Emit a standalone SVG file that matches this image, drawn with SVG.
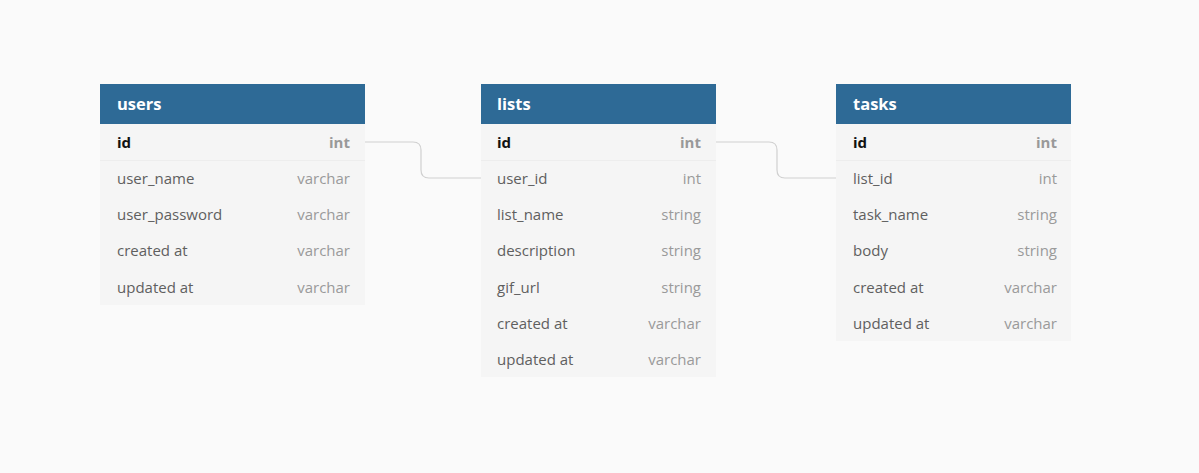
<svg xmlns="http://www.w3.org/2000/svg" width="1199" height="473" viewBox="0 0 1199 473">
<style>
.hdr{fill:#2e6a96}
.body{fill:#f5f5f5}
.sep{stroke:#ededed;stroke-width:1}
.title{font-family:"Open Sans",sans-serif;font-size:16.5px;font-weight:bold;fill:#ffffff}
.fn{font-family:"Open Sans",sans-serif;font-size:15px;fill:#5f5f5f}
.ft{font-family:"Open Sans",sans-serif;font-size:15px;fill:#9a9a9a;text-anchor:end}
.pk{font-weight:bold;fill:#111111}
.pkt{font-weight:bold;fill:#999999}
.conn{fill:none;stroke:#d0d0d0;stroke-width:1.2}
</style>
<rect width="1199" height="473" fill="#fafafa"/>
<g id="connectors">
<path class="conn" d="M365,142 H413 Q421,142 421,150 V170 Q421,178 429,178 H481"/>
<path class="conn" d="M716,142 H769 Q777,142 777,150 V170 Q777,178 785,178 H836"/>
</g>
<g id="users">
<rect class="body" x="100" y="84" width="265" height="221"/>
<rect class="hdr" x="100" y="84" width="265" height="40"/>
<text class="title" x="117" y="110">users</text>
<line class="sep" x1="100" y1="160.5" x2="365" y2="160.5"/>
<text class="fn pk" x="117" y="148">id</text><text class="ft pkt" x="350" y="148">int</text>
<text class="fn" x="117" y="184">user_name</text><text class="ft" x="350" y="184">varchar</text>
<text class="fn" x="117" y="220">user_password</text><text class="ft" x="350" y="220">varchar</text>
<text class="fn" x="117" y="256">created at</text><text class="ft" x="350" y="256">varchar</text>
<text class="fn" x="117" y="293">updated at</text><text class="ft" x="350" y="293">varchar</text>
</g>
<g id="lists">
<rect class="body" x="481" y="84" width="235" height="293"/>
<rect class="hdr" x="481" y="84" width="235" height="40"/>
<text class="title" x="497" y="110">lists</text>
<line class="sep" x1="481" y1="160.5" x2="716" y2="160.5"/>
<text class="fn pk" x="497" y="148">id</text><text class="ft pkt" x="701" y="148">int</text>
<text class="fn" x="497" y="184">user_id</text><text class="ft" x="701" y="184">int</text>
<text class="fn" x="497" y="220">list_name</text><text class="ft" x="701" y="220">string</text>
<text class="fn" x="497" y="256">description</text><text class="ft" x="701" y="256">string</text>
<text class="fn" x="497" y="293">gif_url</text><text class="ft" x="701" y="293">string</text>
<text class="fn" x="497" y="329">created at</text><text class="ft" x="701" y="329">varchar</text>
<text class="fn" x="497" y="365">updated at</text><text class="ft" x="701" y="365">varchar</text>
</g>
<g id="tasks">
<rect class="body" x="836" y="84" width="235" height="257"/>
<rect class="hdr" x="836" y="84" width="235" height="40"/>
<text class="title" x="853" y="110">tasks</text>
<line class="sep" x1="836" y1="160.5" x2="1071" y2="160.5"/>
<text class="fn pk" x="853" y="148">id</text><text class="ft pkt" x="1057" y="148">int</text>
<text class="fn" x="853" y="184">list_id</text><text class="ft" x="1057" y="184">int</text>
<text class="fn" x="853" y="220">task_name</text><text class="ft" x="1057" y="220">string</text>
<text class="fn" x="853" y="256">body</text><text class="ft" x="1057" y="256">string</text>
<text class="fn" x="853" y="293">created at</text><text class="ft" x="1057" y="293">varchar</text>
<text class="fn" x="853" y="329">updated at</text><text class="ft" x="1057" y="329">varchar</text>
</g>
</svg>
